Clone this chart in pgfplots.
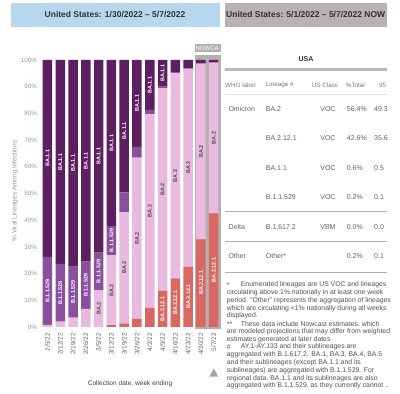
\documentclass[border=0pt]{standalone}
\usepackage{pgfplots}
\usepackage{pgfplotstable}
\pgfplotsset{compat=1.18}
\usepackage{fontspec}
\setmainfont{Liberation Sans}
\definecolor{cBAoneone}{RGB}{93,31,96}
\definecolor{cBone}{RGB}{138,80,158}
\definecolor{cBAtwo}{RGB}{233,185,224}
\definecolor{cBAtwelve}{RGB}{216,104,98}
\definecolor{hdrblue}{RGB}{183,215,238}
\definecolor{hdrgray}{RGB}{184,178,176}
\definecolor{nowgray}{RGB}{181,176,174}
\definecolor{tickgray}{RGB}{150,150,150}
\definecolor{dategray}{RGB}{100,100,100}
\definecolor{tabtext}{RGB}{95,95,95}
\definecolor{tabhead}{RGB}{120,120,120}
\definecolor{fntext}{RGB}{80,80,80}
\tikzset{blab/.style={rotate=90, inner sep=0pt, font=\fontsize{5.4}{6}\selectfont\bfseries}}
\pgfplotstableread{
x r p m d
1 0 0.8 25.5 73.7
2 0 2.0 21.6 76.4
3 0 3.5 19.1 77.4
4 0 6.8 17.7 75.5
5 0 13.8 14.1 72.1
6 0.7 26.2 10.9 62.2
7 1.4 41.6 7.4 49.6
8 3.0 60.4 4.1 32.5
9 7.2 72.5 1.6 18.7
10 13.6 75.8 0.6 10.0
11 18.2 76.8 0.3 4.7
12 22.6 74.1 0.2 3.1
13 32.8 65.8 0.2 1.2
14 42.6 56.4 0.2 0.8
}\vardata
\newcommand{\fn}{\fontsize{6.85}{7.8}\selectfont}
\newcommand{\tb}{\fontsize{7}{8}\selectfont}
\begin{document}
\begin{tikzpicture}
\path[use as bounding box] (0,0) rectangle (400pt,394pt);
\begin{scope}[x=1pt,y=-1pt,shift={(0,394pt)}]
  % headers
  \fill[hdrblue] (11,3.3) rectangle (220,26.7);
  \node[font=\fontsize{8.5}{10}\selectfont\bfseries, text=black!80] at (115,15) {United States: 1/30/2022 -- 5/7/2022};
  \fill[hdrgray] (225,3.3) rectangle (386.5,26.7);
  \node[font=\fontsize{8.5}{10}\selectfont\bfseries, text=black!80, anchor=west, inner sep=0pt] at (226,15) {United States: 5/1/2022 -- 5/7/2022 NOW};
  % nowcast background
  \fill[nowgray] (195,55) rectangle (221,329);
  \fill[nowgray] (195,44) rectangle (220.5,52);
  \node[font=\fontsize{6}{6}\selectfont, text=white, anchor=west, inner sep=0pt] at (195.4,48) {NOWCA};
  % axis labels
  \node[rotate=90, font=\fontsize{6.5}{7}\selectfont, text=tickgray] at (15,191) {\% Viral Lineages Among Infections};
  \node[font=\fontsize{6.6}{7}\selectfont, text=black!75] at (130,384) {Collection date, week ending};
  \fill[black!35] (209.3,376.7) -- (218.3,376.7) -- (213.8,368.3) -- cycle;
  % table
  \node[font=\fontsize{7}{8}\selectfont\bfseries, text=black!80] at (306,59.5) {USA};
  \fill[black!28] (225,68.3) rectangle (386.7,71);
  \begin{scope}[every node/.style={anchor=west, inner sep=0pt, font=\fontsize{6.3}{7}\selectfont, text=tabhead}]
    \node at (225,85) {WHO label};
    \node at (265.7,85) {Lineage \#};
    \node at (311.7,85) {US Class};
    \node at (345.7,85) {\%Total};
    \node at (379,85) {95};
  \end{scope}
  \draw[black!12, line width=0.6pt] (225,94) -- (386.7,94);
  \draw[black!30, line width=0.8pt] (225,211.7) -- (386.7,211.7);
  \draw[black!30, line width=0.8pt] (225,241) -- (386.7,241);
  \draw[black!30, line width=0.8pt] (225,272.3) -- (386.7,272.3);
  \begin{scope}[every node/.style={inner sep=0pt, font=\tb, text=tabtext}]
    \node[anchor=west] at (228.3,109) {Omicron};
    \node[anchor=west] at (228.5,226.7) {Delta};
    \node[anchor=west] at (228.3,255.7) {Other};
    \node[anchor=west] at (265.7,109) {BA.2};
    \node[anchor=west] at (265.7,138.3) {BA.2.12.1};
    \node[anchor=west] at (265.7,168.3) {BA.1.1};
    \node[anchor=west] at (265.7,196.7) {B.1.1.529};
    \node[anchor=west] at (265.7,226.7) {B.1.617.2};
    \node[anchor=west] at (265.7,255.7) {Other*};
    \node[anchor=east] at (335.7,109) {VOC};
    \node[anchor=east] at (335.7,138.3) {VOC};
    \node[anchor=east] at (335.7,168.3) {VOC};
    \node[anchor=east] at (335.7,196.7) {VOC};
    \node[anchor=east] at (335.7,226.7) {VBM};
    \node[anchor=west] at (346.7,109) {56.4\%};
    \node[anchor=west] at (346.7,138.3) {42.6\%};
    \node[anchor=west] at (346.7,168.3) {0.6\%};
    \node[anchor=west] at (346.7,196.7) {0.2\%};
    \node[anchor=west] at (346.7,226.7) {0.0\%};
    \node[anchor=west] at (346.7,255.7) {0.2\%};
    \node[anchor=west] at (374,109) {49.3};
    \node[anchor=west] at (374,138.3) {35.6};
    \node[anchor=west] at (374,168.3) {0.5};
    \node[anchor=west] at (374,196.7) {0.1};
    \node[anchor=west] at (374,226.7) {0.0};
    \node[anchor=west] at (374,255.7) {0.1};
  \end{scope}
  % footnotes
  \begin{scope}[every node/.style={anchor=west, inner sep=0pt, font=\fn, text=fntext}]
    \node at (226.7,285) {*};
    \node at (240.7,285) {Enumerated lineages are US VOC and lineages};
    \node at (226.7,292.7) {circulating above 1\% nationally in at least one week};
    \node at (226.7,300.3) {period. "Other" represents the aggregation of lineages};
    \node at (226.7,308.3) {which are circulating <1\% nationally during all weeks};
    \node at (226.7,316) {displayed.};
    \node at (226.7,324) {**};
    \node at (240.7,324) {These data include Nowcast estimates, which};
    \node at (226.7,331.7) {are modeled projections that may differ from weighted};
    \node at (226.7,339.3) {estimates generated at later dates};
    \node at (226.7,347) {\#};
    \node at (240.7,347) {AY.1-AY.133 and their sublineages are};
    \node at (226.7,354.7) {aggregated with B.1.617.2. BA.1, BA.3, BA.4, BA.5};
    \node at (226.7,362.7) {and their sublineages (except BA.1.1 and its};
    \node at (226.7,370.7) {sublineages) are aggregated with B.1.1.529. For};
    \node at (226.7,378.3) {regional data, BA.1.1 and its sublineages are also};
    \node at (226.7,386) {aggregated with B.1.1.529, as they currently cannot ..};
  \end{scope}
\end{scope}
\begin{axis}[
  at={(41.1pt,67pt)}, anchor=south west,
  scale only axis, width=179pt, height=267pt,
  xmin=0.5, xmax=14.5, ymin=0, ymax=100,
  ybar stacked, bar width=9.5pt,
  axis line style={draw=none},
  major tick style={draw=none},
  ytick={0,10,...,100},
  yticklabel={\pgfmathprintnumber{\tick}\%},
  /pgf/number format/assume math mode=true,
  yticklabel style={font=\fontsize{6.3}{7}\selectfont, text=tickgray, inner sep=0pt, anchor=east},
  yticklabel shift=4pt,
  xtick={1,...,14},
  xticklabels={2/5/22,2/12/22,2/19/22,2/26/22,3/5/22,3/12/22,3/19/22,3/26/22,4/2/22,4/9/22,4/16/22,4/23/22,4/30/22,5/7/22},
  xticklabel style={rotate=90, anchor=east, font=\fontsize{6.5}{7}\selectfont, text=dategray, inner sep=0pt},
  xticklabel shift=6pt,
  clip=false,
]
\addplot[fill=cBAtwelve, draw=none] table[x=x,y=r]{\vardata};
\addplot[fill=cBAtwo, draw=none] table[x=x,y=p]{\vardata};
\addplot[fill=cBone, draw=none] table[x=x,y=m]{\vardata};
\addplot[fill=cBAoneone, draw=none] table[x=x,y=d]{\vardata};
% label anchors (segment centres)
\coordinate (a1) at (axis cs:1,63.15);
\coordinate (a2) at (axis cs:2,61.8);
\coordinate (a3) at (axis cs:3,61.3);
\coordinate (a4) at (axis cs:4,62.25);
\coordinate (a5) at (axis cs:5,63.95);
\coordinate (a6) at (axis cs:6,68.9);
\coordinate (a7) at (axis cs:7,73.5);
\coordinate (a8) at (axis cs:8,83.75);
\coordinate (a9) at (axis cs:9,90.65);
\coordinate (a10) at (axis cs:10,95.0);
\coordinate (b1) at (axis cs:1,13.55);
\coordinate (b2) at (axis cs:2,12.8);
\coordinate (b3) at (axis cs:3,13.05);
\coordinate (b4) at (axis cs:4,15.65);
\coordinate (b5) at (axis cs:5,20.85);
\coordinate (b6) at (axis cs:6,32.35);
\coordinate (c5) at (axis cs:5,6.9);
\coordinate (c6) at (axis cs:6,13.8);
\coordinate (c7) at (axis cs:7,22.2);
\coordinate (c8) at (axis cs:8,33.2);
\coordinate (c9) at (axis cs:9,43.45);
\coordinate (c10) at (axis cs:10,51.5);
\coordinate (c11) at (axis cs:11,56.6);
\coordinate (c12) at (axis cs:12,59.65);
\coordinate (c13) at (axis cs:13,65.7);
\coordinate (c14) at (axis cs:14,70.8);
\coordinate (d10) at (axis cs:10,6.7);
\coordinate (d11) at (axis cs:11,9.1);
\coordinate (d12) at (axis cs:12,11.5);
\coordinate (d13) at (axis cs:13,16.6);
\coordinate (d14) at (axis cs:14,21.3);
\end{axis}
\foreach \i in {1,...,10} {\node[blab, text=white] at (a\i) {BA.1.1};}
\foreach \i in {1,...,6} {\node[blab, text=white] at (b\i) {B.1.1.529};}
\foreach \i in {5,...,14} {\node[blab, text=black!70] at (c\i) {BA.2};}
\foreach \i in {10,...,14} {\node[blab, text=white] at (d\i) {BA.2.12.1};}
\end{tikzpicture}
\end{document}
